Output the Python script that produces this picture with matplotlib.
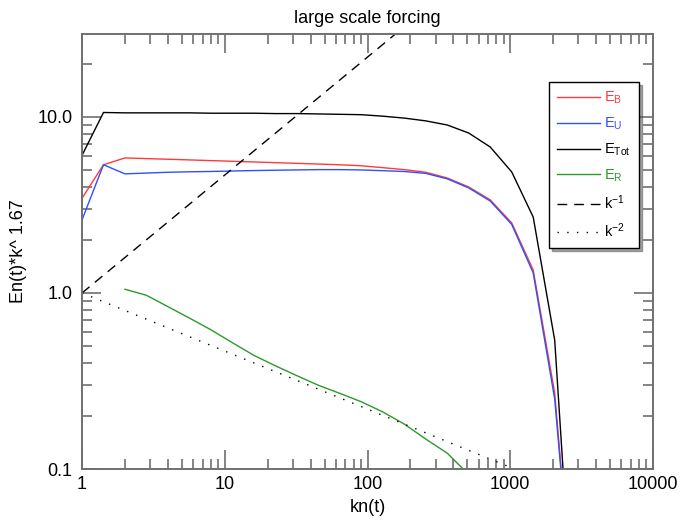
import matplotlib
matplotlib.use("Agg")
import matplotlib.pyplot as plt
from matplotlib.ticker import FixedLocator, LogLocator, NullFormatter

plt.rcParams["font.family"] = ["Liberation Sans", "DejaVu Sans"]
plt.rcParams["mathtext.fontset"] = "custom"
plt.rcParams["mathtext.rm"] = "Liberation Sans"
plt.rcParams["mathtext.it"] = "Liberation Sans"

# STEP 1: data (compensated spectra, k = sqrt(2)^n)
k = [1, 1.414, 2, 2.83, 4, 5.66, 8, 11.3, 16, 22.6, 32, 45.3, 64, 90.5,
     128, 181, 256, 362, 512, 724, 1024, 1448, 2048, 2896]

E_B = [3.45, 5.35, 5.85, 5.8, 5.75, 5.7, 5.65, 5.6, 5.55, 5.5, 5.45, 5.4,
       5.35, 5.28, 5.15, 5.02, 4.85, 4.5, 4.0, 3.38, 2.5, 1.35, 0.27, 0.01]

E_U = [2.6, 5.35, 4.75, 4.8, 4.85, 4.88, 4.9, 4.93, 4.96, 4.98, 5.0, 5.02,
       5.02, 5.0, 4.95, 4.9, 4.78, 4.45, 3.95, 3.33, 2.45, 1.3, 0.25, 0.01]

E_Tot = [6.05, 10.6, 10.55, 10.55, 10.55, 10.55, 10.5, 10.5, 10.5, 10.45, 10.45,
         10.4, 10.35, 10.3, 10.1, 9.85, 9.5, 9.0, 8.1, 6.75, 4.87, 2.7, 0.54, 0.007]

# residual energy starts at k=2
k_R = [2, 2.83, 4, 5.66, 8, 11.3, 16, 22.6, 32, 45.3, 64, 90.5, 128, 181,
       256, 362, 512]
E_R = [1.05, 0.97, 0.836, 0.72, 0.618, 0.522, 0.442, 0.386, 0.339, 0.299,
       0.269, 0.241, 0.211, 0.18, 0.148, 0.123, 0.093]

# reference slopes (already multiplied by k^1.67)
k_ref = [1, 10000]
ref_m1 = [1.0, 10000 ** 0.67]
ref_m2 = [1.0, 10000 ** -0.33]

x_ticks = [1, 10, 100, 1000, 10000]
x_labels = ["1", "10", "100", "1000", "10000"]
y_ticks = [0.1, 1.0, 10.0]
y_labels = ["0.1", "1.0", "10.0"]

# STEP 2: figure
fig = plt.figure(figsize=(6.8, 5.22), dpi=100)
ax = fig.add_axes([0.1206, 0.1015, 0.8397, 0.8334])

ax.plot(k, E_B, color="#ff3a3a", lw=1.0, label=r"E$_\mathregular{B}$")
ax.plot(k, E_U, color="#3050ff", lw=1.0, label=r"E$_\mathregular{U}$")
ax.plot(k, E_Tot, color="black", lw=1.0, label=r"E$_\mathregular{Tot}$")
ax.plot(k_R, E_R, color="#2a9a2a", lw=1.0, label=r"E$_\mathregular{R}$")
ax.plot(k_ref, ref_m1, color="black", lw=1.0, dashes=(7, 5), label=r"k$^{-1}$")
ax.plot(k_ref, ref_m2, color="black", lw=1.0, dashes=(1, 6), label=r"k$^{-2}$")

ax.set_xscale("log")
ax.set_yscale("log")
ax.set_xlim(1, 10000)
ax.set_ylim(0.1, 29.6)

ax.xaxis.set_major_locator(FixedLocator(x_ticks))
ax.set_xticklabels(x_labels)
ax.yaxis.set_major_locator(FixedLocator(y_ticks))
ax.set_yticklabels(y_labels)
ax.xaxis.set_minor_locator(LogLocator(base=10, subs=range(2, 10), numticks=20))
ax.yaxis.set_minor_locator(LogLocator(base=10, subs=range(2, 10), numticks=20))
ax.xaxis.set_minor_formatter(NullFormatter())
ax.yaxis.set_minor_formatter(NullFormatter())

frame_col = "#707070"
for sp in ax.spines.values():
    sp.set_color(frame_col)
    sp.set_linewidth(1.4)
ax.tick_params(which="both", direction="in", top=True, right=True,
               color=frame_col, width=1.2, labelsize=13, labelcolor="black")
ax.tick_params(which="major", length=14)
ax.tick_params(which="minor", length=7)
ax.tick_params(axis="x", which="major", pad=5)
ax.tick_params(axis="y", which="major", pad=7)

ax.set_title("large scale forcing", fontsize=13, pad=8)
ax.set_xlabel("kn(t)", fontsize=13, labelpad=4)
ax.set_ylabel("En(t)*k^ 1.67", fontsize=13, labelpad=7)

# STEP 3: legend with coloured text and shadow
leg = ax.legend(loc="upper left", bbox_to_anchor=(0.818, 0.890), borderaxespad=0,
                fontsize=10.5, handlelength=2.95, handletextpad=0.3, labelspacing=0.65,
                borderpad=0.55, fancybox=False, shadow=True, framealpha=1)
leg.get_frame().set_edgecolor("black")
leg.get_frame().set_linewidth(1.0)
text_cols = ["#ff3a3a", "#3050ff", "black", "#2a9a2a", "black", "black"]
for t, c in zip(leg.get_texts(), text_cols):
    t.set_color(c)

fig.savefig("out.png", dpi=100)
